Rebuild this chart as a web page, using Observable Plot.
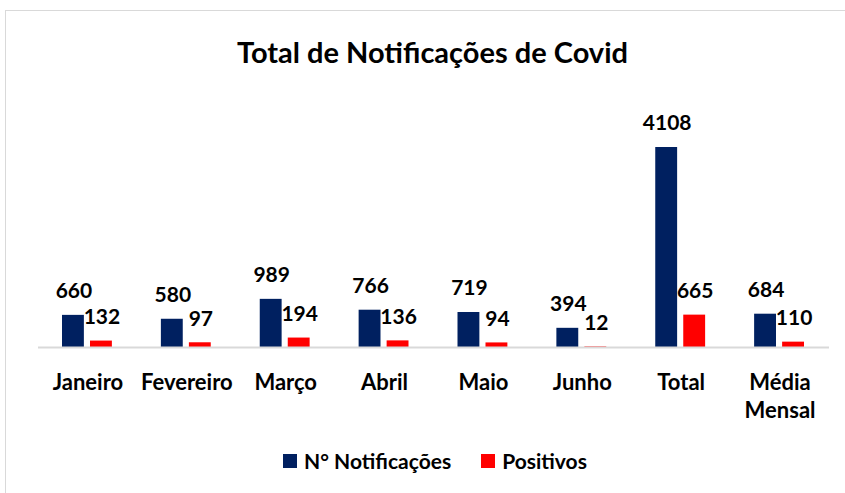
<!DOCTYPE html>
<html>
<head>
<meta charset="utf-8">
<script src="https://cdn.jsdelivr.net/npm/d3@7"></script>
<script src="https://cdn.jsdelivr.net/npm/@observablehq/plot@0.6"></script>
<style>
  html, body { margin: 0; padding: 0; background: #fff; width: 845px; height: 493px; overflow: hidden; }
  body { position: relative; font-family: Lato, "Open Sans", sans-serif; }
  #frame { position: absolute; left: 5px; top: 10px; width: 845px; height: 490px; border: 1px solid #d9d9d9; box-sizing: border-box; }
  #title { position: absolute; left: 0; top: 34px; width: 865px; text-align: center; font-size: 29px; line-height: 36px; font-weight: 700; color: #000; }
  #chart { position: absolute; left: 0; top: 80px; }
  #legend { position: absolute; left: 0; top: 448px; width: 870px; display: flex; justify-content: center; gap: 30px; font-size: 21px; line-height: 26px; font-weight: 700; color: #000; }
  .item { display: flex; align-items: center; gap: 7px; }
  .sw { width: 14px; height: 14px; display: inline-block; }
</style>
</head>
<body>
<div id="frame"></div>
<div id="title">Total de Notificações de Covid</div>
<div id="chart"></div>
<div id="legend"></div>
<script>
const categories = ["Janeiro", "Fevereiro", "Março", "Abril", "Maio", "Junho", "Total", "Média Mensal"];
const notificacoes = [660, 580, 989, 766, 719, 394, 4108, 684];
const positivos = [132, 97, 194, 136, 94, 12, 665, 110];
const seriesNames = ["N° Notificações", "Positivos"];
const seriesColors = ["#002060", "#ff0000"];

const notifData = categories.map((c, i) => ({category: c, value: notificacoes[i]}));
const posData = categories.map((c, i) => ({category: c, value: positivos[i]}));

const chart = Plot.plot({
  width: 845,
  height: 360,
  marginLeft: 38,
  marginRight: 16,
  marginTop: 67,
  marginBottom: 93,
  style: {fontFamily: "Lato, 'Open Sans', sans-serif", background: "transparent"},
  x: {domain: categories, padding: 0, round: false, label: null},
  y: {domain: [0, 4108], axis: null},
  marks: [
    Plot.barY(notifData, {x: "category", y: "value", fill: seriesColors[0], insetLeft: 24, insetRight: 53}),
    Plot.barY(posData, {x: "category", y: "value", fill: seriesColors[1], insetLeft: 52, insetRight: 25}),
    Plot.ruleY([0], {stroke: "#d9d9d9", strokeWidth: 2}),
    Plot.text(notifData, {x: "category", y: "value", text: d => String(d.value), dx: -14, dy: -24, fontSize: 21, fontWeight: 700, fill: "#000"}),
    Plot.text(posData, {x: "category", y: "value", text: d => String(d.value), dx: 14, dy: -24, fontSize: 21, fontWeight: 700, fill: "#000"}),
    Plot.axisX({tickSize: 0, tickPadding: 22, fontSize: 22, fontWeight: 700, fill: "#000", label: null, lineHeight: 1.3,
      tickFormat: d => d === "Média Mensal" ? "Média\nMensal" : d})
  ]
});
document.getElementById("chart").appendChild(chart);

const legend = document.getElementById("legend");
seriesNames.forEach((n, i) => {
  const item = document.createElement("div");
  item.className = "item";
  const sw = document.createElement("span");
  sw.className = "sw";
  sw.style.background = seriesColors[i];
  const lab = document.createElement("span");
  lab.textContent = n;
  item.appendChild(sw);
  item.appendChild(lab);
  legend.appendChild(item);
});
</script>
</body>
</html>
